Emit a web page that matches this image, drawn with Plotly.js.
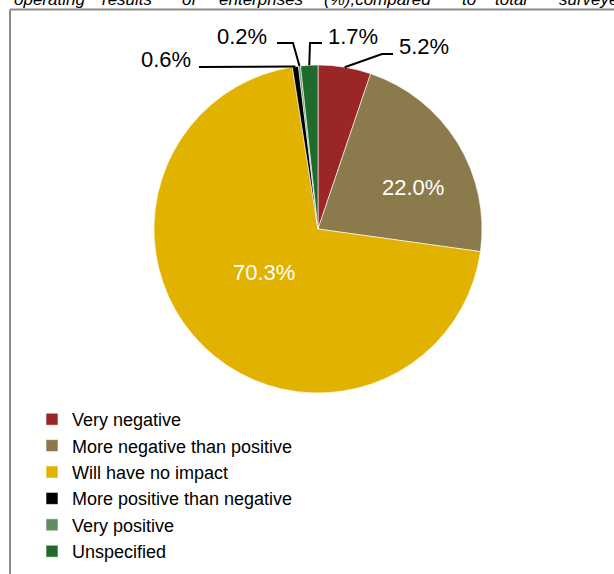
<!DOCTYPE html>
<html><head><meta charset="utf-8">
<script src="https://cdn.plot.ly/plotly-3.0.1.min.js"></script>
<style>html,body{margin:0;padding:0;background:#fff}#chart{width:614px;height:574px}</style>
</head><body><div id="chart"></div>
<script>
const categories = ["Very negative","More negative than positive","Will have no impact","More positive than negative","Very positive","Unspecified"];
const values = [5.2, 22.0, 70.3, 0.6, 0.2, 1.7];
const colors = ["#9b2626","#8a7a4c","#e2b200","#000000","#5f8f60","#1e6b2b"];
const titleWords = ["operating","results","of","enterprises","(%),compared","to","total","surveyed"];
const titleWordX = [12,100,180,217,322,460,493,557];

const W = 614, H = 574;
const cx = 318, cy = 229, R = 164;
const px = x => x / W;
const py = y => 1 - y / H;
const SANS = '"Liberation Sans", Arial, sans-serif';

// label placement (pixel positions for leader elbows and label anchors)
const labelPos = {
  0: {elbow: [382, 54], end: [393, 54], tx: 397, ty: 47, anchor: 'left'},
  1: {tx: 413, ty: 188, anchor: 'center', inside: true},
  2: {tx: 264, ty: 272, anchor: 'center', inside: true},
  3: {elbow: null, end: [199, 67], tx: 193, ty: 59, anchor: 'right'},
  4: {elbow: [293, 43], end: [277, 43], tx: 269, ty: 36, anchor: 'right'},
  5: {elbow: [310, 43], end: [322, 43], tx: 326, ty: 36, anchor: 'left'}
};

const total = values.reduce((a, b) => a + b, 0);
const shapes = [];
const annotations = [];
let cum = 0;
values.forEach((v, i) => {
  const mid = (cum + v / 2) / total;
  cum += v;
  const L = labelPos[i];
  if (!L) return;
  if (!L.inside) {
    const th = mid * 2 * Math.PI;
    const ex = cx + R * Math.sin(th), ey = cy - R * Math.cos(th);
    let path = `M${px(ex)},${py(ey)}`;
    if (L.elbow) path += ` L${px(L.elbow[0])},${py(L.elbow[1])}`;
    path += ` L${px(L.end[0])},${py(L.end[1])}`;
    shapes.push({type: 'path', xref: 'paper', yref: 'paper', path: path, line: {color: '#000', width: 2}});
  }
  annotations.push({xref: 'paper', yref: 'paper', x: px(L.tx), y: py(L.ty), xanchor: L.anchor, yanchor: 'middle',
    text: v.toFixed(1) + '%', showarrow: false,
    font: {family: SANS, size: 22, color: L.inside ? '#ffffff' : '#000000'}});
});

// frame
shapes.push({type: 'line', xref: 'paper', yref: 'paper', x0: px(10), y0: py(9.5), x1: px(620), y1: py(9.5), line: {color: '#8c8c8c', width: 2}});
shapes.push({type: 'line', xref: 'paper', yref: 'paper', x0: px(10), y0: py(9.5), x1: px(10), y1: py(580), line: {color: '#8c8c8c', width: 2}});

// clipped heading text above the frame
titleWords.forEach((w, i) => {
  annotations.push({xref: 'paper', yref: 'paper', x: px(titleWordX[i]), y: py(11), xanchor: 'left', yanchor: 'bottom',
    text: '<i>' + w + '</i>', showarrow: false, font: {family: SANS, size: 17, color: '#000'}});
});

const trace = {
  type: 'pie',
  labels: categories,
  values: values,
  sort: false,
  direction: 'clockwise',
  rotation: 0,
  marker: {colors: colors, line: {color: '#ffffff', width: 0.6}},
  textinfo: 'none',
  hoverinfo: 'label+value',
  domain: {x: [px(cx - R), px(cx + R)], y: [py(cy + R), py(cy - R)]}
};

const layout = {
  width: W, height: H,
  margin: {l: 0, r: 0, t: 0, b: 0},
  paper_bgcolor: '#ffffff',
  showlegend: true,
  legend: {x: px(32), y: py(401), xanchor: 'left', yanchor: 'top', font: {family: SANS, size: 18, color: '#000'},
    bgcolor: 'rgba(0,0,0,0)', traceorder: 'normal'},
  shapes: shapes,
  annotations: annotations
};

Plotly.newPlot('chart', [trace], layout, {displayModeBar: false, staticPlot: true});
</script>
</body></html>
